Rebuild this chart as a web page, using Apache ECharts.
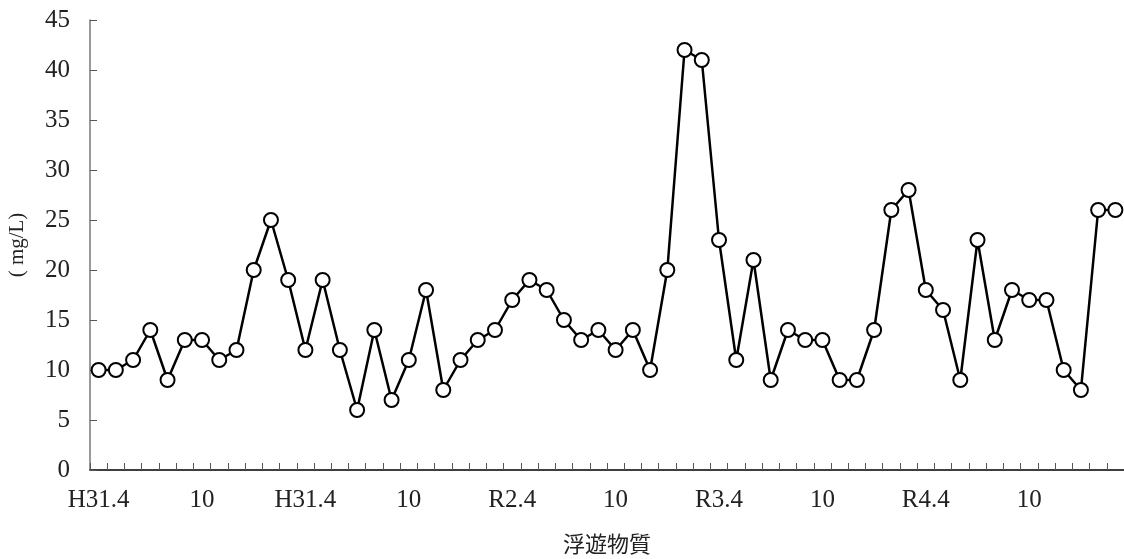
<!DOCTYPE html>
<html>
<head>
<meta charset="utf-8">
<script src="https://cdn.jsdelivr.net/npm/echarts@6/dist/echarts.min.js"></script>
<style>
html,body{margin:0;padding:0;background:#fff;}
#chart{width:1124px;height:559px;}
</style>
</head>
<body>
<div id="chart"></div>
<script>
const tickLabels = ['H31.4','','','','','','10','','','','','','H31.4','','','','','','10','','','','','','R2.4','','','','','','10','','','','','','R3.4','','','','','','10','','','','','','R4.4','','','','','','10','','','','',''];
const values = [10,10,11,14,9,13,13,11,12,20,
                25,19,12,19,12,6,14,7,11,18,
                8,11,13,14,17,19,18,15,13,14,
                12,14,10,20,42,41,23,11,21,9,
                14,13,13,9,9,14,26,28,18,16,
                9,23,13,18,17,17,10,8,26,26];
const yTicks = {min:0, max:45, interval:5};
const yName = '( mg/L)';
const xName = '浮遊物質';

const chart = echarts.init(document.getElementById('chart'), null, {renderer:'canvas'});
const serif = '"Liberation Serif", "DejaVu Serif", serif';
chart.setOption({
  animation:false,
  backgroundColor:'#fff',
  grid:{left:90, right:0, top:20, bottom:89, containLabel:false, outerBoundsMode:'none'},
  xAxis:{
    type:'category',
    data:tickLabels,
    boundaryGap:true,
    name:xName,
    nameLocation:'middle',
    nameGap:63,
    nameTextStyle:{fontFamily:'"Noto Sans CJK JP", sans-serif', fontSize:22, color:'#222', fontWeight:'normal'},
    axisLine:{lineStyle:{color:'#000', width:1.5}},
    axisTick:{show:true, inside:true, length:7, interval:0, lineStyle:{color:'#555', width:1}},
    axisLabel:{interval:0, margin:18, fontFamily:serif, fontSize:25, color:'#222'},
    splitLine:{show:false}
  },
  yAxis:{
    type:'value',
    min:yTicks.min, max:yTicks.max, interval:yTicks.interval,
    name:yName,
    nameLocation:'middle',
    nameGap:62,
    nameRotate:90,
    nameTextStyle:{fontFamily:serif, fontSize:21, color:'#222'},
    axisLine:{show:true, lineStyle:{color:'#777', width:1.5}},
    axisTick:{show:true, inside:true, length:7, lineStyle:{color:'#555', width:1}},
    axisLabel:{margin:20, fontFamily:serif, fontSize:25, color:'#222'},
    splitLine:{show:false}
  },
  series:[{
    type:'line',
    data:values,
    symbol:'circle',
    symbolSize:14,
    showAllSymbol:true,
    lineStyle:{color:'#000', width:2.5},
    itemStyle:{color:'#fff', borderColor:'#000', borderWidth:2}
  }]
});
</script>
</body>
</html>
